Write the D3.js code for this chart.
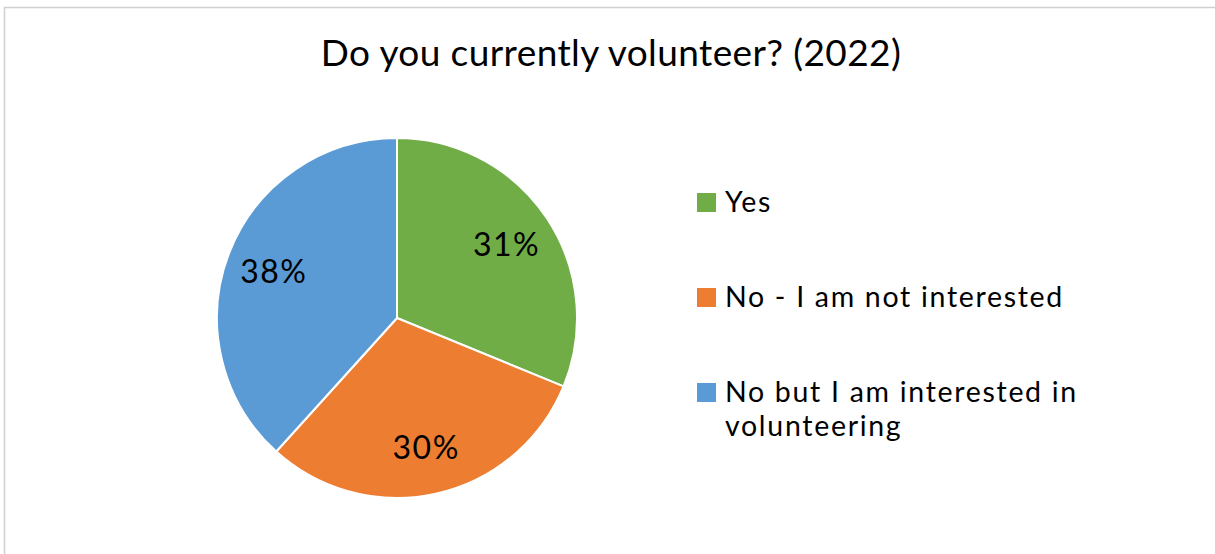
<!DOCTYPE html>
<html><head><meta charset="utf-8">
<script src="https://cdn.jsdelivr.net/npm/d3@7"></script>
<style>
html,body{margin:0;padding:0;background:#fff;}
svg{display:block;font-family:Lato, "Open Sans", sans-serif;}
</style></head>
<body>
<svg id="chart" width="1215" height="554"></svg>
<script>
const title = "Do you currently volunteer? (2022)";
const categories = ["Yes", "No - I am not interested", "No but I am interested in volunteering"];
const legendLines = [["Yes"], ["No - I am not interested"], ["No but I am interested in", "volunteering"]];
const values = [31.2, 30.5, 38.3];
const labels = ["31%", "30%", "38%"];
const colors = ["#70ad47", "#ed7d31", "#5b9bd5"];

const svg = d3.select("#chart");
svg.append("rect").attr("x", 4.5).attr("y", 7.5).attr("width", 1220).attr("height", 560)
  .attr("fill", "#fff").attr("stroke", "#d0d0d0").attr("stroke-width", 1.5);

svg.append("text").attr("x", 611).attr("y", 66).attr("text-anchor", "middle")
  .attr("font-size", 37).attr("letter-spacing", 0.4).attr("fill", "#000").text(title);

const cx = 397, cy = 318, r = 180;
const pie = d3.pie().sort(null).value(d => d)(values);
const arc = d3.arc().innerRadius(0).outerRadius(r);
const labelArc = d3.arc().innerRadius(132).outerRadius(132);
const g = svg.append("g").attr("transform", `translate(${cx},${cy})`);
g.selectAll("path").data(pie).join("path")
  .attr("d", arc).attr("fill", (d, i) => colors[i])
  .attr("stroke", "#fff").attr("stroke-width", 2).attr("stroke-linejoin", "round");
g.selectAll("text").data(pie).join("text")
  .attr("transform", d => { const c = labelArc.centroid(d); return `translate(${c[0]},${c[1] + 12})`; })
  .attr("text-anchor", "middle").attr("font-size", 32).attr("letter-spacing", 1.5).attr("fill", "#000")
  .text((d, i) => labels[i]);

const legendY = [212, 307, 402];
const lg = svg.append("g");
categories.forEach((c, i) => {
  lg.append("rect").attr("x", 697).attr("y", legendY[i] - 19).attr("width", 19).attr("height", 19).attr("fill", colors[i]);
  const t = lg.append("text").attr("x", 725).attr("y", legendY[i]).attr("font-size", 28.5)
    .attr("letter-spacing", 1.7).attr("fill", "#000");
  legendLines[i].forEach((ln, j) => {
    t.append("tspan").attr("x", 725).attr("dy", j === 0 ? 0 : 34).text(ln);
  });
});
</script>
</body></html>
